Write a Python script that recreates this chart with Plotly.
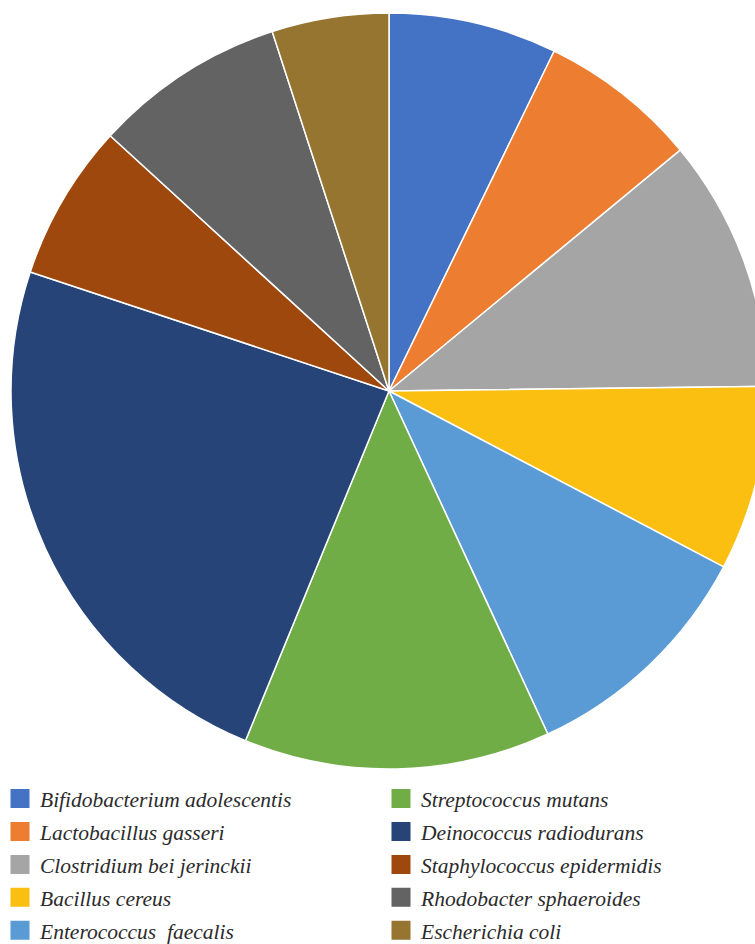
import plotly.graph_objects as go

labels = ["Bifidobacterium adolescentis", "Lactobacillus gasseri", "Clostridium bei jerinckii",
          "Bacillus cereus", "Enterococcus  faecalis", "Streptococcus mutans",
          "Deinococcus radiodurans", "Staphylococcus epidermidis", "Rhodobacter sphaeroides",
          "Escherichia coli"]
values = [7.2, 6.8, 10.8, 7.9, 10.4, 13.1, 23.9, 6.7, 8.2, 5.0]
colors = ["#4472C4", "#ED7D31", "#A5A5A5", "#FBBF12", "#5B9BD5", "#70AD47",
          "#264478", "#9E480E", "#636363", "#967530"]

W, H = 778, 975
fig = go.Figure()
fig.add_trace(go.Pie(
    labels=labels, values=values, sort=False, direction="clockwise", rotation=0,
    marker=dict(colors=colors, line=dict(color="white", width=1.5)),
    textinfo="none", hoverinfo="label+value", showlegend=False,
    domain=dict(x=[0, 1], y=[1 - 769 / H, 1 - 13 / H]),
))

for i, (lab, col) in enumerate(zip(labels, colors)):
    fig.add_trace(go.Scatter(
        x=[None], y=[None], mode="markers", name=lab,
        marker=dict(symbol="square", size=16, color=col, line=dict(color=col, width=3)),
        legend="legend" if i < 5 else "legend2",
        legendgroup=f"g{i}",
    ))

legend_common = dict(
    font=dict(family="Liberation Serif, DejaVu Serif, serif", size=21.5, color="#2b2b2b", style="italic"),
    bgcolor="rgba(0,0,0,0)", yanchor="top", xanchor="left",
    tracegroupgap=2, itemwidth=30, traceorder="grouped",
)
fig.update_layout(
    width=W, height=H, margin=dict(l=0, r=0, t=0, b=0),
    paper_bgcolor="white", plot_bgcolor="white",
    xaxis=dict(visible=False), yaxis=dict(visible=False),
    legend=dict(x=0.0, y=1 - 778 / H, **legend_common),
    legend2=dict(x=381 / W, y=1 - 778 / H, **legend_common),
)

fig.write_html("out.html", post_script="document.body.style.overflow='hidden';document.documentElement.style.overflow='hidden';")
